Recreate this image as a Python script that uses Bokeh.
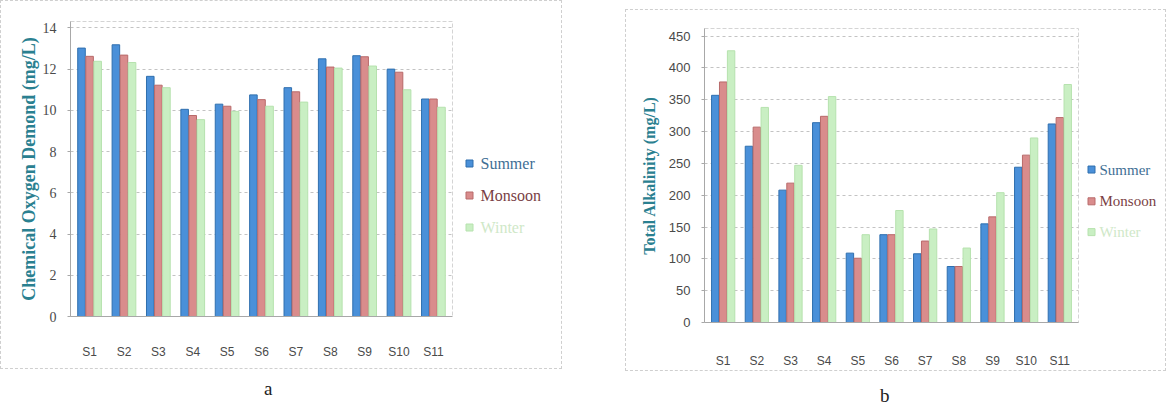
from bokeh.plotting import figure
from bokeh.models import (ColumnDataSource, FactorRange, Range1d, FixedTicker, Div, Spacer)
from bokeh.core.properties import value
from bokeh.transform import dodge
from bokeh.layouts import row, column
from bokeh.embed import file_html
from bokeh.resources import INLINE

sites = ["S1", "S2", "S3", "S4", "S5", "S6", "S7", "S8", "S9", "S10", "S11"]
seasons = ["Summer", "Monsoon", "Winter"]

cod_summer = [13.02, 13.18, 11.65, 10.05, 10.3, 10.75, 11.1, 12.5, 12.65, 12.0, 10.55]
cod_monsoon = [12.62, 12.68, 11.22, 9.75, 10.2, 10.52, 10.9, 12.1, 12.6, 11.85, 10.55]
cod_winter = [12.38, 12.32, 11.1, 9.55, 9.95, 10.2, 10.4, 12.05, 12.15, 11.0, 10.15]

ta_summer = [357, 277, 208, 314, 109, 138, 108, 88, 155, 244, 312]
ta_monsoon = [378, 307, 219, 324, 101, 138, 128, 88, 166, 263, 322]
ta_winter = [427, 338, 247, 355, 138, 176, 147, 117, 204, 290, 374]

cod_ticks = [0, 2, 4, 6, 8, 10, 12, 14]
ta_ticks = [0, 50, 100, 150, 200, 250, 300, 350, 400, 450]

fills = ["#4a90d9", "#d98c8c", "#c9efc3"]
edges = ["#2f6fae", "#b86a6a", "#b6e2ae"]
legend_text_colors = ["#3f6f95", "#7a3f45", "#cfe8c8"]
title_color = "#2a8090"
tick_color = "#4a4a4a"


def make_chart(values, ticks, y_end, ytitle, title_size, title_standoff,
               ytick_font, ytick_size, width, height, b_left, b_right, b_top,
               b_bottom, x_standoff):
    src = ColumnDataSource(dict(site=sites, s=values[0], m=values[1], w=values[2]))
    p = figure(x_range=FactorRange(*sites, range_padding=0.01),
               y_range=Range1d(0, y_end),
               width=width, height=height, output_backend="svg",
               toolbar_location=None, min_border_left=b_left,
               min_border_right=b_right, min_border_top=b_top,
               min_border_bottom=b_bottom)
    p.background_fill_color = "white"
    p.border_fill_color = "white"
    p.outline_line_color = "#d4d4d4"
    p.outline_line_dash = "4 2"

    offsets = [-0.235, 0.0, 0.235]
    for col, off, fc, lc in zip(["s", "m", "w"], offsets, fills, edges):
        p.vbar(x=dodge("site", off, range=p.x_range), top=col, width=0.22,
               source=src, fill_color=fc, line_color=lc, line_width=1)

    p.xgrid.grid_line_color = None
    p.ygrid.grid_line_color = "#b4b4b4"
    p.ygrid.grid_line_dash = "3 3"
    p.ygrid.grid_line_alpha = 0.8

    p.yaxis.ticker = FixedTicker(ticks=ticks)
    p.yaxis.minor_tick_line_color = None
    p.yaxis.major_tick_out = 3
    p.yaxis.major_tick_in = 0
    p.yaxis.major_label_standoff = 11
    p.yaxis.axis_line_color = "#a8a8a8"
    p.yaxis.major_tick_line_color = "#a8a8a8"
    p.xaxis.axis_line_color = "#a8a8a8"
    p.xaxis.major_tick_line_color = None
    p.xaxis.major_label_standoff = x_standoff
    p.xaxis.major_label_text_font = "Liberation Sans"
    p.xaxis.major_label_text_font_size = "12px"
    p.yaxis.major_label_text_font = ytick_font
    p.yaxis.major_label_text_font_size = ytick_size
    for ax in (p.xaxis, p.yaxis):
        ax.major_label_text_color = tick_color
    p.yaxis.axis_label = ytitle
    p.yaxis.axis_label_text_font = "Liberation Serif"
    p.yaxis.axis_label_text_font_style = "bold"
    p.yaxis.axis_label_text_font_size = title_size
    p.yaxis.axis_label_text_color = title_color
    p.yaxis.axis_label_standoff = title_standoff
    return p


def make_legend(width, height, b_top, b_bottom, sq_x, txt_x, ys, font_size):
    # y values are pixel rows measured from the top of the figure
    src = ColumnDataSource(dict(label=seasons, fill=fills, edge=edges,
                                tcol=legend_text_colors, y=ys,
                                sx=[sq_x] * 3, tx=[txt_x] * 3))
    q = figure(width=width, height=height, x_range=Range1d(0, width),
               y_range=Range1d(height - b_bottom, b_top), output_backend="svg",
               toolbar_location=None, min_border_left=0, min_border_right=0,
               min_border_top=b_top, min_border_bottom=b_bottom, title=None,
               x_axis_location=None, y_axis_location=None)
    q.grid.grid_line_color = None
    q.outline_line_color = None
    q.background_fill_color = "white"
    q.border_fill_color = "white"
    q.scatter(x="sx", y="y", marker="square", size=7, fill_color="fill",
              line_color="edge", source=src)
    q.text(x="tx", y="y", text="label", text_color="tcol",
           text_font=value("Liberation Serif"), text_font_size=font_size,
           text_baseline="middle", source=src)
    return q


border = {"border": "1px dashed #cfcfcf"}

pa = make_chart([cod_summer, cod_monsoon, cod_winter], cod_ticks, 14.31,
                "Chemical Oxygen Demond (mg/L)", "18px", 1,
                "Liberation Serif", "14px", 457, 367, 69, 6, 20, 52, 22)
la = make_legend(103, 367, 20, 52, 11, 22, [162, 194, 226], "16px")

pb = make_chart([ta_summer, ta_monsoon, ta_winter], ta_ticks, 462,
                "Total Alkalinity (mg/L)", "16px", 8,
                "Liberation Sans", "13px", 456, 360, 78, 4, 18, 46, 25)
lb = make_legend(83, 360, 18, 46, 9, 17, [160, 192, 223], "15px")

lab_style = "font-family:'Liberation Serif';font-size:19px;color:#222;position:relative;"
div_a = Div(text=f'<div style="{lab_style}left:259px;top:1px;">a</div>', width=560, height=26)
div_b = Div(text=f'<div style="{lab_style}left:250px;top:6px;">b</div>', width=539, height=28)

block_a = row(pa, la, spacing=0, styles=border)
block_b = row(pb, lb, spacing=0, styles=border)

layout = row(column(block_a, div_a, spacing=0),
             Spacer(width=55),
             column(Spacer(height=9), block_b, div_b, spacing=0),
             spacing=0)

open("out.html", "w").write(file_html(layout, INLINE))
